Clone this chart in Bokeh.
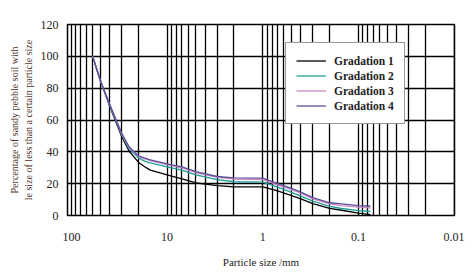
from bokeh.plotting import figure
from bokeh.models import Range1d, FixedTicker, Legend, LegendItem
from bokeh.embed import file_html
from bokeh.resources import INLINE

# ---- data ----
sizes = [60, 50, 40, 30, 25, 20, 17, 15, 10, 7, 5, 3, 2, 1, 0.7, 0.5, 0.4, 0.3, 0.2, 0.15, 0.1, 0.075]
grad1 = [100, 85, 69, 50, 40.5, 33.5, 30.5, 28.5, 25.5, 23, 20.5, 18.8, 18, 18, 15.5, 12.5, 10.5, 7.5, 4.5, 3.3, 1.5, 0.6]
grad2 = [100, 85, 69.5, 51, 42, 36.2, 34, 33, 30.5, 28.5, 25.5, 22.5, 21.2, 21, 17.8, 14.5, 12.2, 9, 5.8, 4.4, 3, 2.5]
grad3 = [100, 85, 70, 51.5, 42.8, 37, 35.5, 34.5, 32, 30, 27, 24, 22.8, 22.5, 19.3, 16.3, 14, 10.5, 7.3, 6.2, 5.3, 4.8]
grad4 = [100, 85, 70, 52, 43.2, 37.5, 36, 35, 32.5, 30.5, 27.5, 24.5, 23.7, 23.5, 20, 17, 14.7, 11.2, 8, 7.3, 6.2, 5.8]
names = ["Gradation 1", "Gradation 2", "Gradation 3", "Gradation 4"]
colors = ["#000000", "#1f9e9a", "#c98ac0", "#5b4f9c"]

x_ticks = [100, 10, 1, 0.1, 0.01]
x_tick_labels = ["100", "10", "1", "0.1", "0.01"]
y_ticks = [0, 20, 40, 60, 80, 100, 120]

grid_x = [m * 10.0 ** e for e in [-2, -1, 0, 1] for m in range(1, 10)] + [100]

SERIF = "Liberation Serif"

p = figure(frame_width=387, frame_height=191, x_axis_type="log",
           x_range=Range1d(110, 0.0099), y_range=Range1d(0, 120),
           output_backend="svg", toolbar_location=None,
           min_border_left=67, min_border_right=11,
           min_border_top=24, min_border_bottom=60)

p.background_fill_color = "white"
p.outline_line_color = "black"
p.outline_line_width = 1.5

# grids
p.xgrid.ticker = FixedTicker(ticks=grid_x)
p.ygrid.ticker = FixedTicker(ticks=y_ticks)
for g in (p.xgrid, p.ygrid):
    g.grid_line_color = "black"
    g.grid_line_width = 1.3
    g.grid_line_alpha = 1.0

# axes
p.xaxis.ticker = FixedTicker(ticks=x_ticks)
p.xaxis.major_label_overrides = {t: s for t, s in zip(x_ticks, x_tick_labels)}
p.yaxis.ticker = FixedTicker(ticks=y_ticks)
for ax in (p.xaxis, p.yaxis):
    ax.major_tick_line_color = None
    ax.minor_tick_line_color = None
    ax.major_tick_out = 0
    ax.major_tick_in = 0
    ax.minor_tick_out = 0
    ax.axis_line_color = "black"
    ax.major_label_text_font = SERIF
    ax.major_label_text_font_size = "12px"
    ax.major_label_text_color = "#222222"
    ax.axis_label_text_font = SERIF
    ax.axis_label_text_font_style = "normal"

p.xaxis.major_label_standoff = 17
p.yaxis.major_label_standoff = 9
p.xaxis.axis_label = "Particle size /mm"
p.xaxis.axis_label_text_font_size = "11px"
p.xaxis.axis_label_text_color = "#222222"
p.xaxis.axis_label_standoff = 12
p.yaxis.axis_label = "Percentage of sandy pebble soil with\nle size of less than a certain particle size"
p.yaxis.axis_label_text_font_size = "10px"
p.yaxis.axis_label_text_color = "#4d3328"
p.yaxis.axis_label_standoff = 4

renderers = []
for vals, c in zip([grad1, grad2, grad3, grad4], colors):
    r = p.line(sizes, vals, line_color=c, line_width=1.3, line_join="round")
    renderers.append(r)

legend = Legend(items=[LegendItem(label=n, renderers=[r]) for n, r in zip(names, renderers)],
                location=(218, 91))
legend.label_text_font = SERIF
legend.label_text_font_style = "bold"
legend.label_text_font_size = "11.5px"
legend.label_text_color = "#222222"
legend.padding = 10
legend.spacing = 0
legend.label_height = 15
legend.glyph_height = 15
legend.glyph_width = 30
legend.label_standoff = 8
legend.border_line_color = "#333333"
legend.border_line_width = 1
legend.background_fill_color = "white"
legend.background_fill_alpha = 1.0
legend.margin = 0
p.add_layout(legend, "center")

open("out.html", "w").write(file_html(p, INLINE))
